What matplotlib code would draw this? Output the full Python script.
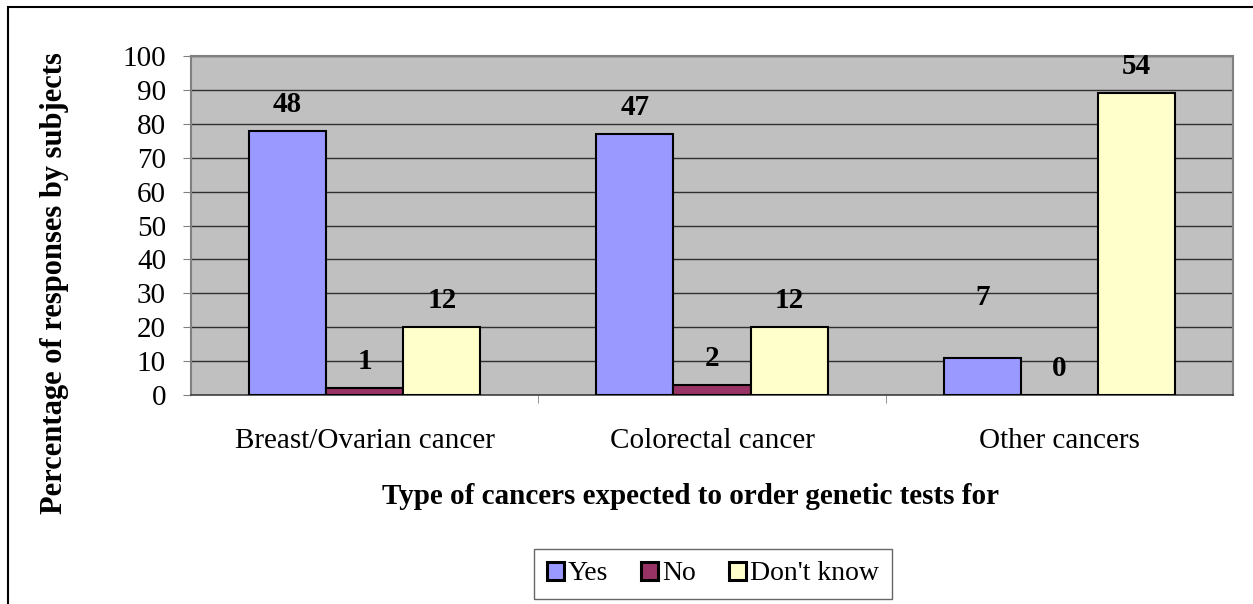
import numpy as np
import matplotlib.pyplot as plt
from matplotlib.patches import Rectangle

plt.rcParams['font.family'] = ['Liberation Serif', 'DejaVu Serif']

categories = ['Breast/Ovarian cancer', 'Colorectal cancer', 'Other cancers']
series = ['Yes', 'No', "Don't know"]
# percentage of responses (bar heights)
yes_pct = [78, 77, 11]
no_pct = [2, 3, 0]
dk_pct = [20, 20, 89]
# number of subjects (labels on top of bars)
yes_n = [48, 47, 7]
no_n = [1, 2, 0]
dk_n = [12, 12, 54]

colors = ['#9999FF', '#993366', '#FFFFCC']

W, H = 1253, 604
fig = plt.figure(figsize=(W / 100, H / 100), dpi=100)
ax = fig.add_axes([191 / W, 1 - 395 / H, (1233 - 191) / W, (395 - 56) / H])
ax.set_facecolor('#C0C0C0')

x = np.arange(len(categories))
bw = 0.222
pcts = [yes_pct, no_pct, dk_pct]
counts = [yes_n, no_n, dk_n]
for i in range(3):
    pos = x + (i - 1) * bw
    ax.bar(pos, pcts[i], bw, color=colors[i], edgecolor='black', linewidth=1.5,
           label=series[i], zorder=3)
    for j in range(3):
        off = 19
        if i == 0 and j == 2:
            off = 43  # this label sits higher in the original
        ax.annotate(str(counts[i][j]), (pos[j], pcts[i][j]), xytext=(0, off),
                    textcoords='offset points', ha='center', va='center',
                    fontsize=21, fontweight='bold', zorder=4)

ax.set_xlim(-0.5, 2.5)
ax.set_ylim(0, 100)
ax.set_yticks(range(0, 101, 10))
ax.grid(axis='y', color='#303030', linewidth=1, zorder=1)
ax.set_xticks(x)
ax.set_xticklabels(categories, fontsize=21)
ax.set_xticks([0.5, 1.5], minor=True)
ax.tick_params(axis='x', which='major', length=0, pad=24)
ax.tick_params(axis='x', which='minor', length=6, color='#808080')
ax.tick_params(axis='y', labelsize=21, length=6, color='#808080', pad=12)
for s in ['top', 'right', 'left']:
    ax.spines[s].set_color('#808080')
    ax.spines[s].set_linewidth(1.5)
ax.spines['bottom'].set_color('#404040')
ax.spines['bottom'].set_linewidth(1.2)

fig.text(691 / W, 1 - 496 / H, 'Type of cancers expected to order genetic tests for',
         ha='center', va='center', fontsize=21, fontweight='bold')
fig.text(55 / W, 1 - 283 / H, 'Percentage of responses by subjects', rotation=90,
         ha='center', va='center', fontsize=22, fontweight='bold')

leg = fig.legend(loc='center', bbox_to_anchor=(713 / W, 1 - 574 / H), ncol=3,
                 fontsize=20, frameon=True, fancybox=False, handlelength=0.6,
                 handleheight=0.6, handletextpad=0.15, columnspacing=1.2,
                 borderpad=0.45)
leg.get_frame().set_edgecolor('#404040')
leg.get_frame().set_linewidth(1)
for p in leg.get_patches():
    p.set_linewidth(2.2)

fig.patches.append(Rectangle((8 / W, -0.1), 1.2, 1 - 7 / H + 0.1, transform=fig.transFigure,
                             fill=False, edgecolor='black', linewidth=1.5))

fig.savefig('out.png', dpi=100)
